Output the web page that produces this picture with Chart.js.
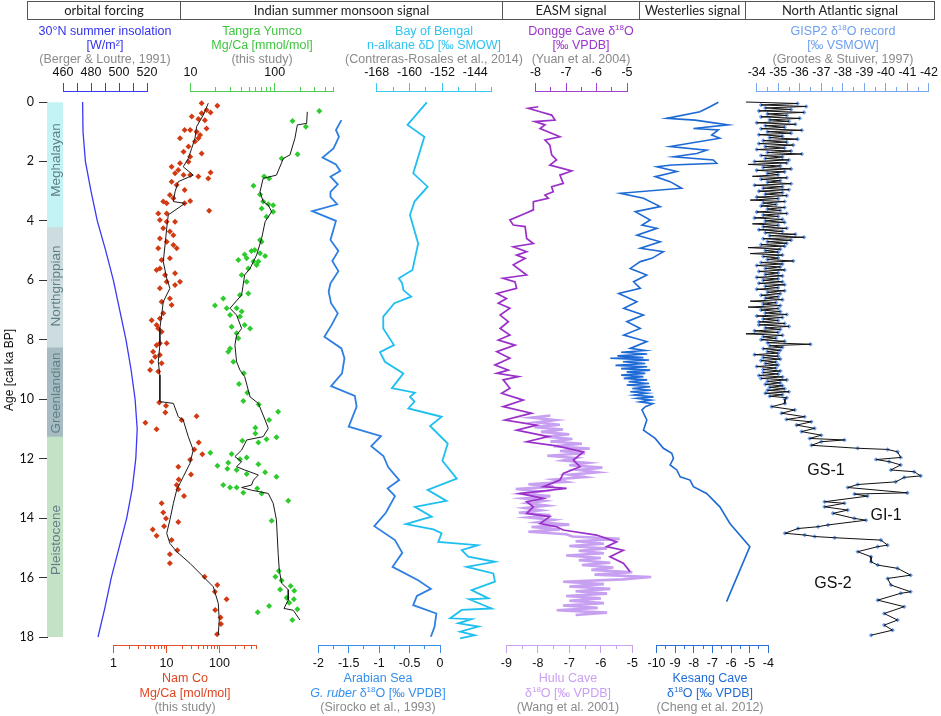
<!DOCTYPE html>
<html lang="en">
<head>
<meta charset="UTF-8">
<title>Monsoon and North Atlantic records, 0-18 ka</title>
<script src="https://cdn.jsdelivr.net/npm/chart.js"></script>
<style>
    body { margin: 0; background: #fff; }
    #wrap { position: relative; width: 941px; height: 716px; overflow: hidden; font-family: "Liberation Sans", Arial, sans-serif; }
    #wrap canvas { position: absolute; left: 0; top: 0; }
    #hdr { position: absolute; left: 27px; top: 1px; width: 908px; height: 19px; border: 1px solid #555; display: flex; box-sizing: border-box; font-family: Lato, sans-serif; font-size: 13px; color: #222; }
    #hdr div { box-sizing: border-box; border-right: 1px solid #555; text-align: center; line-height: 17px; }
    #hdr div:last-child { border-right: none; flex: 1; }
    .t { position: absolute; transform: translate(-50%, -50%); white-space: nowrap; font-size: 12.5px; line-height: 14px; }
    .g { color: #8a8a8a; }
    sup { font-size: 8px; line-height: 0; vertical-align: 5px; }
    .rot { position: absolute; transform: translate(-50%, -50%) rotate(-90deg); white-space: nowrap; font-weight: 400; }
    .stage { font-family: "Liberation Sans", Arial, sans-serif; font-size: 13.5px; color: #5f7f87; }
    .ev { position: absolute; transform: translate(-50%, -50%); font-size: 16px; color: #111; }
</style>
</head>
<body>
<div id="wrap">
    <div id="hdr">
        <div style="width:153px">orbital forcing</div>
        <div style="width:322px">Indian summer monsoon signal</div>
        <div style="width:137px">EASM signal</div>
        <div style="width:106px">Westerlies signal</div>
        <div>North Atlantic signal</div>
    </div>

    <!-- top titles -->
    <div class="t" style="left:105px;top:31px;color:#3333ee">30°N summer insolation</div>
    <div class="t" style="left:105px;top:45px;color:#3333ee">[W/m²]</div>
    <div class="t g" style="left:105px;top:59px">(Berger &amp; Loutre, 1991)</div>

    <div class="t" style="left:262px;top:31px;color:#3fc63f">Tangra Yumco</div>
    <div class="t" style="left:262px;top:45px;color:#3fc63f">Mg/Ca [mmol/mol]</div>
    <div class="t g" style="left:262px;top:59px">(this study)</div>

    <div class="t" style="left:434px;top:31px;color:#2ec4f2">Bay of Bengal</div>
    <div class="t" style="left:434px;top:45px;color:#2ec4f2">n-alkane δD [‰ SMOW]</div>
    <div class="t g" style="left:434px;top:59px">(Contreras-Rosales et al., 2014)</div>

    <div class="t" style="left:581px;top:31px;color:#9c33cc">Dongge Cave δ<sup>18</sup>O</div>
    <div class="t" style="left:581px;top:45px;color:#9c33cc">[‰ VPDB]</div>
    <div class="t g" style="left:581px;top:59px">(Yuan et al. 2004)</div>

    <div class="t" style="left:843px;top:31px;color:#6c9ef0">GISP2 δ<sup>18</sup>O record</div>
    <div class="t" style="left:843px;top:45px;color:#6c9ef0">[‰ VSMOW]</div>
    <div class="t g" style="left:843px;top:59px">(Grootes &amp; Stuiver, 1997)</div>

    <!-- bottom titles -->
    <div class="t" style="left:185px;top:678px;color:#df4520">Nam Co</div>
    <div class="t" style="left:185px;top:693px;color:#df4520">Mg/Ca [mol/mol]</div>
    <div class="t g" style="left:185px;top:707px">(this study)</div>

    <div class="t" style="left:378px;top:678px;color:#3390f0">Arabian Sea</div>
    <div class="t" style="left:378px;top:693px;color:#3390f0"><i>G. ruber</i> δ<sup>18</sup>O [‰ VPDB]</div>
    <div class="t g" style="left:378px;top:707px">(Sirocko et al., 1993)</div>

    <div class="t" style="left:568px;top:678px;color:#c9a0f3">Hulu Cave</div>
    <div class="t" style="left:568px;top:693px;color:#c9a0f3">δ<sup>18</sup>O [‰ VPDB]</div>
    <div class="t g" style="left:568px;top:707px">(Wang et al. 2001)</div>

    <div class="t" style="left:710px;top:678px;color:#1f6cd8">Kesang Cave</div>
    <div class="t" style="left:710px;top:693px;color:#1f6cd8">δ<sup>18</sup>O [‰ VPDB]</div>
    <div class="t g" style="left:710px;top:707px">(Cheng et al. 2012)</div>

    <div class="rot" style="left:9px;top:370px;font-size:12px;color:#111">Age [cal ka BP]</div>
    <div class="rot stage" style="left:55px;top:160px">Meghalayan</div>
    <div class="rot stage" style="left:55px;top:286px">Northgrippian</div>
    <div class="rot stage" style="left:55px;top:393px">Greenlandian</div>
    <div class="rot stage" style="left:55px;top:540px">Pleistocene</div>

    <div class="ev" style="left:826px;top:470px">GS-1</div>
    <div class="ev" style="left:886px;top:515px">GI-1</div>
    <div class="ev" style="left:833px;top:583px">GS-2</div>
</div>

<script>
    // chronostratigraphy (ka)
    const stageNames = ['Meghalayan', 'Northgrippian', 'Greenlandian', 'Pleistocene'];
    const stageBounds = [0, 4.2, 8.25, 11.25, 18];
    const ageTicks = [0, 2, 4, 6, 8, 10, 12, 14, 16, 18];

    // [age ka, value] pairs
    const insolation = [[0,474],[1,474.3],[2,476],[3,480],[4,484.5],[5,490.5],[6,496],[7,500.5],[8,505],[9,508.6],
        [10,511.5],[11,513],[12,512],[13,509.5],[14,505.5],[15,500],[16,494.5],[17,490],[18,485]];

    const namCoPoints = [[0.04,46],[0.13,91],[0.27,57],[0.38,46],[0.35,68],[0.49,30],[0.61,53],[0.57,40],[0.89,57],[0.94,22],
        [0.94,28],[1.0,37],[1.22,18],[1.22,40],[1.33,34.5],[1.11,43],[1.5,26],[1.67,21],[1.73,46],[1.84,28],
        [2.01,26],[2.06,18],[2.18,12.5],[2.29,16.7],[2.4,14.5],[2.46,21],[2.46,28],[2.51,40],[2.37,68],[2.57,61.5],
        [2.68,12.5],[2.79,15.6],[2.96,22],[3.13,11.6],[3.24,13.5],[3.35,8.7],[3.41,10.1],[3.41,22],[3.33,28],[3.66,64],
        [3.75,7.0],[3.75,10.1],[3.97,7.5],[4.03,10.1],[4.03,14.5],[4.25,8.7],[4.36,11.6],[4.59,7.5],[4.48,13.5],[4.7,10.1],
        [4.81,13.5],[4.92,15.6],[4.92,7.0],[5.32,8.1],[5.26,11.6],[5.6,7.5],[5.65,6.5],[5.82,9.4],[5.76,14.5],[6.05,10.1],
        [6.05,18],[6.27,7.5],[6.16,14.5],[6.61,11.6],[6.72,8.1],[6.83,12.5],[7.11,8.7],[7.28,7.5],[7.34,5.25],[7.62,7.0],
        [7.5,6.5],[7.73,8.1],[8.18,6.5],[8.12,10.1],[8.12,7.5],[8.4,5.6],[8.57,6.1],[8.51,7.5],[8.74,5.25],[8.79,8.1],
        [9.02,4.9],[9.07,7.0],[10.11,7.3],[10.22,9.8],[10.45,9.5],[10.7,19.3],[10.57,37],[10.79,4.0],[11.01,6.5],[11.46,40.5],
        [11.69,33.5],[11.85,47.5],[12.04,28],[12.27,16.7],[12.53,29],[12.7,17],[12.89,15.6],[13.26,21.4],[13.03,16.7],[13.5,8.1],
        [13.81,8.7],[14.01,9.8],[14.13,16.7],[14.38,5.5],[14.27,9.0],[14.59,6.5],[14.74,12.5],[15.08,16],[15.22,11.6],[15.52,11.6],
        [15.97,52.5],[16.25,91],[16.48,82],[16.73,136],[17.09,83],[17.34,105],[17.56,107],[17.91,90]];
    const namCoSmooth = [[0.04,61.5],[0.44,49.5],[0.83,37],[1.22,34.5],[1.56,29.9],[1.9,25.8],[2.18,20.7],[2.46,32],[2.68,16.7],
        [3.02,14.5],[3.35,13.5],[3.41,22.3],[3.8,10.8],[4.25,10.1],[4.81,9.4],[5.37,8.7],[5.93,10.1],[6.27,11.6],[6.72,8.7],
        [7.17,8.1],[7.61,7.5],[8.18,7.5],[8.74,7.0],[9.19,7.5],[10.08,7.5],[10.14,13.5],[10.59,16.7],[10.7,20.7],[11.26,25.8],
        [11.71,32],[12.16,27.7],[12.61,20.7],[13.05,15.6],[13.5,13.5],[14.06,11.6],[14.51,10.1],[14.85,11.6],[15.13,15.6],
        [15.52,27.7],[15.97,49.5],[16.31,76.4],[16.87,95],[17.43,99],[17.93,95]];

    const tangraPoints = [[0.64,163],[0.83,235],[0.3,339],[1.9,121],[1.76,187],[2.51,75],[2.57,86],[2.82,56],[3.11,67],[3.35,73],
        [3.44,84],[3.47,96],[3.58,70],[3.69,96],[3.86,80],[4.64,67],[4.7,70],[5.13,44],[5.01,53],[4.98,58],
        [5.09,67],[5.18,77],[5.26,46.5],[5.32,37],[5.37,56],[5.6,48.6],[5.82,40.5],[5.48,61],[5.37,64],[6.05,46.5],
        [6.44,48.6],[6.49,38.7],[6.61,24.5],[6.85,19.5],[6.94,26.9],[6.94,35.3],[7.05,40.5],[7.17,29.5],[7.22,38.7],[7.5,44],
        [7.62,51],[7.56,30.8],[7.78,35.3],[7.95,37],[8.29,29.5],[8.4,28.1],[8.74,32.3],[9.13,43],[9.49,37.7],[9.78,47.3],
        [10.06,42.4],[10.18,64.6],[10.42,110],[10.7,86],[10.96,59],[11.15,59],[11.28,105],[11.35,80],[11.4,41.3],[11.46,64],
        [11.8,17.2],[11.84,30.8],[11.96,46.5],[12.02,38.7],[12.24,20.9],[12.14,28.1],[12.34,27.4],[12.38,35.3],[12.19,64],[12.46,77],
        [12.52,46.5],[12.61,105],[12.89,24.5],[12.97,29.5],[12.97,35.3],[13.15,42.4],[13.0,62],[13.17,70],[13.42,145],[14.09,92],
        [15.78,112],[15.97,102],[16.1,121],[16.28,155],[16.4,116],[16.44,171],[16.68,139],[16.73,169],[16.85,149],[16.96,86],
        [17.17,63],[17.07,186],[17.43,162]];
    const tangraSmooth = [[0.33,244],[0.72,240],[0.77,186],[1.22,174],[1.78,152],[1.9,127],[2.46,105],[2.57,73],[3.02,67],
        [3.35,73],[3.47,84],[3.69,92],[4.03,77],[4.59,70],[5.15,61],[5.6,51],[5.82,44],[6.49,40.5],[6.94,29.5],[7.17,35.3],
        [7.62,40.5],[7.84,35.3],[8.18,33.7],[8.74,35.3],[9.02,38.7],[9.24,44],[9.92,51],[10.14,64],[10.7,77],[10.98,84],
        [11.26,73],[11.37,46.5],[11.71,40.5],[11.93,33.7],[12.1,40.5],[12.27,35.3],[12.38,44],[12.55,64],[12.72,56],[12.89,53],
        [12.97,40.5],[13.06,53],[13.17,84],[13.5,96],[14.06,105],[15.19,110],[15.75,113.5],[16.19,121],[16.41,145],[16.76,145],
        [17.04,129],[17.1,166],[17.43,200]];

    const arabianSea = [[0.61,-1.62],[0.94,-1.71],[1.17,-1.66],[1.56,-1.75],[1.87,-1.93],[2.1,-1.71],[2.32,-1.64],[2.51,-1.8],
        [2.77,-1.68],[3.02,-1.8],[3.19,-1.8],[3.44,-1.69],[3.67,-2.1],[4.0,-1.71],[4.64,-1.8],[5.01,-1.67],[5.35,-1.77],
        [5.69,-1.67],[6.1,-1.8],[6.38,-1.83],[6.77,-1.79],[7.11,-1.68],[7.5,-1.78],[7.9,-1.9],[8.29,-1.62],[8.62,-1.57],
        [9.13,-1.61],[9.56,-1.79],[9.89,-1.4],[10.25,-1.37],[10.92,-1.5],[11.24,-0.97],[11.58,-1.13],[11.91,-0.93],[12.29,-0.85],
        [12.72,-0.67],[13.0,-0.86],[13.26,-0.74],[13.82,-0.89],[14.27,-1.08],[14.74,-0.74],[15.17,-0.62],[15.64,-0.78],
        [16.09,-0.36],[16.38,-0.15],[16.62,-0.38],[16.93,-0.44],[17.21,-0.06],[17.66,-0.09],[17.99,-0.15]];

    const bayOfBengal = [[0.01,-155.8],[0.77,-160.5],[1.17,-156.4],[2.4,-159.1],[2.85,-155.6],[3.35,-158.8],[3.8,-159.9],
        [4.76,-157.9],[5.65,-159.3],[5.93,-162.6],[6.1,-161.8],[6.33,-161.5],[6.55,-159.6],[6.77,-163.7],[7.22,-166.4],
        [7.62,-166.4],[8.18,-163.8],[8.42,-167.2],[8.74,-166.0],[9.13,-161.5],[9.63,-164.3],[9.78,-158.7],[9.92,-159.9],
        [10.08,-158.8],[10.31,-160.3],[10.59,-152.2],[10.9,-155.0],[11.49,-150.7],[12.07,-152.0],[12.67,-148.5],[13.05,-155.6],
        [13.42,-151.0],[13.62,-158.7],[13.95,-154.6],[14.04,-157.0],[14.2,-160.9],[14.38,-154.2],[14.51,-152.2],[14.8,-153.0],
        [14.91,-143.4],[15.08,-147.3],[15.3,-145.7],[15.47,-139.2],[15.64,-146.1],[15.86,-139.6],[16.14,-139.2],[16.42,-144.9],
        [16.7,-140.8],[16.73,-145.5],[17.04,-140.0],[17.09,-147.3],[17.37,-150.1],[17.4,-144.9],[17.54,-148.1],[17.65,-143.2],
        [17.82,-147.7],[17.94,-144.1],[18.05,-147.7]];

    const dongge = [[0.16,-7.91],[0.21,-8.24],[0.33,-7.85],[0.44,-7.47],[0.61,-7.36],[0.66,-8.02],[0.77,-7.69],[0.89,-7.85],
        [1.17,-7.2],[1.28,-7.69],[1.45,-7.53],[1.78,-7.47],[1.95,-7.31],[2.12,-7.53],[2.32,-6.81],[2.46,-7.2],[2.74,-7.09],
        [2.85,-7.47],[3.02,-7.42],[3.13,-7.69],[3.24,-7.58],[3.35,-8.07],[3.63,-8.07],[3.75,-8.34],[3.97,-8.84],[4.14,-8.73],
        [4.19,-8.34],[4.59,-8.29],[4.76,-8.07],[4.87,-8.73],[5.04,-8.29],[5.15,-8.62],[5.26,-8.34],[5.48,-8.73],[5.82,-8.29],
        [5.93,-9.06],[6.05,-8.67],[6.27,-8.62],[6.44,-9.27],[6.61,-8.95],[6.77,-9.22],[6.94,-8.84],[7.17,-9.16],[7.39,-8.89],
        [7.62,-9.16],[7.84,-8.84],[8.01,-9.22],[8.18,-8.67],[8.4,-9.27],[8.62,-8.84],[8.85,-9.33],[9.02,-8.89],[9.13,-9.27],
        [9.24,-8.56],[9.35,-9.06],[9.63,-8.84],[9.8,-9.11],[10.03,-8.4],[10.25,-9.06],[10.47,-8.13],[10.7,-9.0],[10.87,-7.96],
        [11.04,-8.62],[11.26,-7.58],[11.43,-8.29],[11.57,-7.31],[11.77,-6.43],[12.05,-6.76],[12.27,-6.54],[12.5,-7.09],
        [12.72,-7.2],[12.94,-7.74],[13.0,-6.98],[13.17,-8.51],[13.34,-7.74],[13.45,-8.29],[13.62,-8.07],[13.84,-8.29],
        [13.95,-7.53],[14.18,-7.85],[14.29,-7.31],[14.4,-7.09],[14.57,-6.0],[14.8,-5.34],[14.96,-5.67],[15.08,-5.12],
        [15.3,-5.56],[15.52,-5.12],[15.8,-4.9]];

    const hulu = [[10.55,-7.6],[10.62,-8.2],[10.7,-7.45],[10.78,-8.05],[10.86,-7.3],[10.94,-8.1],[11.02,-7.2],[11.1,-7.9],
        [11.18,-7.0],[11.26,-7.75],[11.34,-6.9],[11.42,-7.6],[11.5,-6.6],[11.58,-7.5],[11.66,-6.35],[11.74,-7.3],[11.82,-6.5],
        [11.9,-7.7],[11.98,-6.8],[12.06,-7.2],[12.14,-6.4],[12.22,-7.0],[12.3,-5.95],[12.38,-6.7],[12.46,-6.1],[12.54,-7.0],
        [12.62,-6.5],[12.7,-7.5],[12.78,-7.1],[12.86,-8.3],[12.94,-7.5],[13.02,-8.7],[13.1,-7.9],[13.18,-8.5],[13.26,-7.6],
        [13.34,-8.45],[13.42,-7.8],[13.5,-8.3],[13.58,-7.7],[13.66,-8.4],[13.74,-7.9],[13.82,-8.6],[13.9,-7.6],[13.98,-8.3],
        [14.06,-7.5],[14.14,-8.0],[14.22,-7.0],[14.3,-8.2],[14.38,-7.3],[14.46,-8.3],[14.54,-7.1],[14.62,-6.9],[14.7,-5.4],
        [14.78,-6.8],[14.86,-5.9],[14.94,-7.0],[15.02,-5.8],[15.1,-6.7],[15.18,-5.9],[15.26,-7.1],[15.34,-6.0],[15.42,-6.7],
        [15.5,-5.7],[15.58,-6.6],[15.66,-5.6],[15.74,-6.3],[15.82,-5.0],[15.9,-6.2],[15.98,-4.4],[16.06,-5.3],[16.14,-7.2],
        [16.22,-5.9],[16.3,-7.0],[16.38,-5.7],[16.46,-6.8],[16.54,-5.8],[16.62,-7.1],[16.7,-6.0],[16.78,-7.0],[16.86,-5.9],
        [16.94,-7.2],[17.02,-6.1],[17.1,-7.4],[17.18,-5.8],[17.26,-6.8]];

    const kesang = [[0.01,-6.68],[0.16,-7.13],[0.33,-7.67],[0.55,-9.45],[0.61,-7.93],[0.77,-6.15],[0.89,-8.02],[0.94,-6.68],
        [1.11,-7.04],[1.22,-6.6],[1.5,-9.27],[1.62,-7.31],[1.73,-7.84],[1.84,-9.09],[1.95,-6.95],[2.06,-6.77],[2.12,-9.18],
        [2.18,-9.98],[2.34,-8.91],[2.51,-10.07],[2.68,-9.27],[2.9,-8.65],[3.07,-11.94],[3.24,-10.7],[3.52,-9.8],[3.69,-11.14],
        [3.97,-10.34],[4.14,-10.78],[4.25,-9.98],[4.48,-11.05],[4.7,-9.8],[4.92,-10.87],[5.04,-9.63],[5.26,-10.25],[5.37,-10.87],
        [5.6,-11.41],[5.82,-10.52],[6.05,-11.23],[6.27,-10.87],[6.44,-12.03],[6.72,-11.05],[6.94,-11.76],[7.17,-10.7],
        [7.39,-11.59],[7.62,-10.87],[7.84,-11.76],[8.06,-10.52],[8.29,-11.41],[8.36,-10.6],[8.42,-11.9],[8.48,-10.5],
        [8.54,-12.1],[8.6,-10.7],[8.62,-12.48],[8.68,-10.4],[8.74,-11.8],[8.8,-10.6],[8.86,-12.2],[8.91,-10.5],[8.97,-11.9],
        [9.02,-10.34],[9.08,-11.6],[9.13,-10.6],[9.19,-11.9],[9.24,-10.7],[9.3,-11.76],[9.35,-10.5],[9.41,-11.5],[9.47,-10.4],
        [9.52,-11.6],[9.58,-10.34],[9.64,-11.3],[9.7,-10.3],[9.75,-11.41],[9.8,-10.5],[9.86,-11.2],[9.92,-10.16],[9.97,-11.05],
        [10.03,-10.3],[10.09,-10.9],[10.15,-10.2],[10.25,-10.6],[10.36,-10.78],[10.7,-10.52],[11.04,-10.7],[11.32,-10.07],
        [11.65,-9.63],[11.82,-9.18],[11.99,-9.09],[12.21,-9.27],[12.38,-8.91],[12.61,-8.73],[12.72,-8.2],[12.94,-8.02],
        [13.17,-7.31],[13.62,-6.6],[14.18,-6.06],[14.96,-4.99],[16.81,-6.24]];

    const gisp2 = [
        [0.0,-33.5],[0.05,-35.9],[0.1,-34.2],[0.15,-36.3],[0.2,-34.4],[0.25,-35.6],[0.3,-34.1],[0.35,-36.2],[0.4,-34.5],[0.45,-35.4],
        [0.5,-34.2],[0.55,-36.0],[0.6,-34.6],[0.65,-35.5],[0.7,-34.0],[0.75,-35.8],[0.8,-34.4],[0.85,-35.3],[0.9,-34.2],[0.95,-36.1],
        [1.0,-34.5],[1.05,-35.6],[1.1,-34.1],[1.15,-35.2],[1.2,-34.6],[1.25,-35.9],[1.3,-34.3],[1.35,-35.4],[1.4,-34.1],[1.45,-35.7],
        [1.5,-34.4],[1.55,-35.3],[1.6,-34.0],[1.65,-35.6],[1.7,-34.5],[1.75,-36.1],[1.8,-34.2],[1.85,-35.2],[1.9,-34.4],[1.95,-35.5],
        [2.0,-33.9],[2.05,-35.4],[2.1,-33.6],[2.15,-35.1],[2.2,-34.3],[2.25,-35.6],[2.3,-34.0],[2.35,-35.3],[2.4,-34.5],[2.45,-35.0],
        [2.5,-33.8],[2.55,-35.4],[2.6,-34.2],[2.65,-35.1],[2.7,-34.5],[2.75,-35.6],[2.8,-33.9],[2.85,-35.2],[2.9,-34.3],[2.95,-35.5],
        [3.0,-34.1],[3.05,-35.2],[3.1,-34.4],[3.15,-35.4],[3.2,-34.0],[3.25,-35.0],[3.3,-33.7],[3.35,-35.3],[3.4,-34.3],[3.45,-34.9],
        [3.5,-34.2],[3.55,-35.3],[3.6,-34.5],[3.65,-35.1],[3.7,-34.0],[3.75,-35.4],[3.8,-34.3],[3.85,-35.0],[3.9,-33.9],[3.95,-35.2],
        [4.0,-34.4],[4.05,-35.3],[4.1,-33.8],[4.15,-35.0],[4.2,-34.3],[4.25,-35.4],[4.3,-34.1],[4.35,-35.2],[4.4,-34.4],[4.45,-35.8],
        [4.5,-34.6],[4.55,-36.2],[4.6,-34.3],[4.65,-35.6],[4.7,-34.5],[4.75,-35.4],[4.8,-34.2],[4.85,-35.3],[4.9,-33.6],[4.95,-35.1],
        [5.0,-34.4],[5.05,-35.0],[5.1,-33.7],[5.15,-35.2],[5.2,-34.3],[5.25,-35.0],[5.3,-34.5],[5.35,-35.7],[5.4,-34.2],[5.45,-35.2],
        [5.5,-34.0],[5.55,-35.1],[5.6,-34.4],[5.65,-35.3],[5.7,-34.1],[5.75,-35.0],[5.8,-34.4],[5.85,-35.2],[5.9,-34.0],[5.95,-35.0],
        [6.0,-34.3],[6.05,-35.2],[6.1,-34.1],[6.15,-35.3],[6.2,-34.4],[6.25,-35.0],[6.3,-34.0],[6.35,-35.3],[6.4,-34.5],[6.45,-35.1],
        [6.5,-34.2],[6.55,-35.0],[6.6,-34.4],[6.65,-35.2],[6.7,-33.7],[6.75,-34.9],[6.8,-34.3],[6.85,-35.1],[6.9,-33.6],[6.95,-35.0],
        [7.0,-34.2],[7.05,-35.1],[7.1,-34.4],[7.15,-35.4],[7.2,-34.0],[7.25,-35.2],[7.3,-34.3],[7.35,-35.0],[7.4,-34.1],[7.45,-35.3],
        [7.5,-34.1],[7.55,-35.5],[7.6,-34.4],[7.65,-35.1],[7.7,-33.9],[7.75,-35.0],[7.8,-33.5],[7.85,-35.2],[7.9,-34.3],[7.95,-34.9],
        [8.0,-34.2],[8.05,-35.3],[8.1,-34.5],[8.15,-36.5],[8.2,-34.6],[8.25,-35.2],[8.3,-34.3],[8.35,-35.1],[8.4,-34.5],[8.45,-35.0],
        [8.5,-33.9],[8.55,-35.0],[8.6,-34.3],[8.65,-35.1],[8.7,-34.2],[8.75,-34.9],[8.8,-34.4],[8.85,-35.0],[8.9,-34.0],[8.95,-34.9],
        [9.0,-34.3],[9.05,-35.1],[9.1,-34.3],[9.15,-35.0],[9.2,-34.1],[9.25,-35.2],[9.3,-34.2],[9.35,-35.4],[9.4,-34.5],[9.45,-35.1],
        [9.5,-34.4],[9.55,-35.2],[9.6,-34.6],[9.65,-35.3],[9.7,-34.5],[9.75,-35.5],[9.8,-34.4],[9.85,-35.2],[9.9,-34.6],[9.95,-35.4],
        [10.0,-35.3],[10.14,-35.31],[10.25,-34.69],[10.36,-35.77],[10.47,-35.15],[10.59,-36.23],[10.68,-35.38],[10.76,-36.54],
        [10.87,-35.85],[10.98,-36.69],[11.09,-36.08],[11.21,-37.0],[11.32,-36.46],[11.37,-38.08],[11.43,-37.0],[11.55,-36.54],
        [11.65,-38.69],[11.69,-40.08],[11.77,-40.54],[11.96,-40.69],[12.03,-39.54],[12.1,-40.15],[12.21,-40.69],[12.38,-40.23],
        [12.44,-41.31],[12.58,-41.62],[12.63,-40.85],[12.78,-40.46],[12.87,-38.69],[12.97,-38.23],[13.15,-41.0],[13.19,-38.54],
        [13.26,-39.15],[13.45,-37.15],[13.5,-38.08],[13.62,-37.15],[13.73,-38.23],[13.84,-37.54],[14.01,-38.54],[14.07,-39.08],
        [14.23,-37.31],[14.29,-36.85],[14.35,-35.92],[14.51,-35.31],[14.57,-36.23],[14.62,-36.69],[14.66,-37.62],[14.74,-39.77],
        [14.91,-40.08],[14.96,-39.62],[15.13,-38.69],[15.3,-39.31],[15.47,-39.31],[15.58,-39.62],[15.69,-40.54],[15.92,-41.15],
        [16.03,-40.08],[16.25,-40.23],[16.48,-41.15],[16.53,-40.69],[16.76,-39.62],[16.98,-40.85],[17.21,-39.92],[17.43,-40.54],
        [17.6,-39.92],[17.77,-40.31],[17.94,-39.31]];

    // page geometry: 0 ka sits at y=102, 18 ka at y=637
    const W = 941, H = 716;
    const Y0 = 102, Y18 = 637, PLOT_TOP = 91, PLOT_BOT = 645, AXH = 30;
    const KA = (Y18 - Y0) / 18;
    const YMIN = -(Y0 - PLOT_TOP) / KA;
    const YMAX = 18 + (PLOT_BOT - Y18) / KA;
    const FONT = { family: '"Liberation Sans", Arial, sans-serif', size: 12.5 };

    // every new canvas goes under the ones made before it
    const wrap = document.getElementById('wrap');
    function newCanvas() {
        const cv = document.createElement('canvas');
        cv.width = W; cv.height = H;
        wrap.insertBefore(cv, wrap.firstChild);
        return cv;
    }

    function xy(pairs) {
        return pairs.map(p => ({ x: p[1], y: p[0] }));
    }
    function line(pairs, color, width) {
        return { data: xy(pairs), showLine: true, borderColor: color, borderWidth: width,
                 pointRadius: 0, pointHoverRadius: 0, clip: false, xAxisID: 'x' };
    }
    function dots(pairs, color, r) {
        return { data: xy(pairs), showLine: false, pointStyle: 'rectRot', pointRadius: r,
                 backgroundColor: color, borderWidth: 0, clip: false, xAxisID: 'x' };
    }

    function panel(p) {
        const top = p.pos === 'top';
        const axis = (major) => ({
            axis: 'x',
            type: p.type || 'linear',
            position: p.pos,
            weight: major ? 1 : 0,
            min: p.min, max: p.max, reverse: !!p.reverse,
            afterFit: s => { s.height = major ? AXH : 0; },
            afterBuildTicks: s => { s.ticks = (major ? p.major : p.minor).map(v => ({ value: v })); },
            grid: { drawOnChartArea: false, color: p.axisColor, tickLength: major ? 8 : (p.minorLen || 4), tickWidth: 1 },
            border: { color: p.axisColor, width: 1 },
            ticks: { display: major, color: '#111', font: FONT, padding: 3, maxRotation: 0, autoSkip: false,
                     callback: v => String(v) }
        });
        return new Chart(newCanvas(), {
            type: 'scatter',
            data: { datasets: p.datasets },
            options: {
                responsive: false, animation: false, events: [], indexAxis: 'y',
                layout: { padding: {
                    left: p.x0, right: W - p.x1,
                    top: top ? PLOT_TOP - AXH : PLOT_TOP,
                    bottom: top ? H - PLOT_BOT : H - PLOT_BOT - AXH } },
                plugins: { legend: { display: false }, tooltip: { enabled: false } },
                scales: {
                    x: axis(true),
                    xm: axis(false),
                    y: { type: 'linear', display: false, min: YMIN, max: YMAX, reverse: true }
                }
            }
        });
    }

    // age axis with chronozone bar
    const stageColors = ['#c4f3f6', '#cddcdf', '#a6bcc2', '#c4e2c6'];
    new Chart(newCanvas(), {
        type: 'bar',
        data: {
            labels: ['stage'],
            datasets: stageNames.map((n, i) => ({
                label: n, data: [[stageBounds[i], stageBounds[i + 1]]],
                backgroundColor: stageColors[i], borderWidth: 0,
                grouped: false, barPercentage: 1, categoryPercentage: 1
            }))
        },
        options: {
            responsive: false, animation: false, events: [],
            layout: { padding: { left: 47 - 36, right: W - 63, top: Y0, bottom: H - Y18 } },
            plugins: { legend: { display: false }, tooltip: { enabled: false } },
            scales: {
                x: { display: false },
                y: {
                    min: 0, max: 18, reverse: true,
                    afterFit: s => { s.width = 36; },
                    afterBuildTicks: s => { s.ticks = ageTicks.map(v => ({ value: v })); },
                    grid: { drawOnChartArea: false, color: '#333', tickLength: 8 },
                    border: { color: '#333' },
                    ticks: { color: '#111', font: { family: 'Lato, sans-serif', size: 12.5 }, padding: 5 }
                }
            }
        }
    });

    const decades = (a, b) => { const out = []; for (let d = a; d < b; d *= 10) for (let k = 2; k <= 9; k++) out.push(k * d); return out; };

    panel({ pos: 'top', x0: 63, x1: 147, min: 460, max: 520, axisColor: '#3a3af5',
            major: [460, 480, 500, 520], minor: [470, 490, 510], minorLen: 8,
            datasets: [line(insolation, '#3a3af5', 1.3)] });

    panel({ pos: 'bottom', type: 'logarithmic', x0: 113.5, x1: 256.5, min: 1, max: 500, axisColor: '#e0502a',
            major: [1, 10, 100], minor: decades(1, 100).concat([200, 300, 400, 500]),
            datasets: [line(namCoSmooth, '#1a1a1a', 1), dots(namCoPoints, '#d13a12', 3)] });

    panel({ pos: 'top', type: 'logarithmic', x0: 190.5, x1: 333.5, min: 10, max: 500, axisColor: '#4fcf4f',
            major: [10, 100], minor: decades(10, 100).concat([200, 300, 400, 500]),
            datasets: [line(tangraSmooth, '#1a1a1a', 1), dots(tangraPoints, '#2dcb2d', 3)] });

    panel({ pos: 'top', x0: 376.7, x1: 491.7, min: -168, max: -140, axisColor: '#3cc8f2',
            major: [-168, -160, -152, -144], minor: [-164, -156, -148, -140],
            datasets: [line(bayOfBengal, '#1fbff0', 1.8)] });

    panel({ pos: 'bottom', x0: 318.3, x1: 440, min: -2, max: 0, axisColor: '#3a8de8',
            major: [-2, -1.5, -1, -0.5, 0], minor: [-1.75, -1.25, -0.75, -0.25],
            datasets: [line(arabianSea, '#2d7fe3', 1.8)] });

    // Dongge before Hulu so that Dongge sits on top
    panel({ pos: 'top', x0: 535.5, x1: 627, min: -8, max: -5, axisColor: '#a040d0',
            major: [-8, -7, -6, -5], minor: [-7.5, -6.5, -5.5],
            datasets: [line(dongge, '#9a2fc9', 1.7)] });

    panel({ pos: 'bottom', x0: 506.3, x1: 632.3, min: -9, max: -5, axisColor: '#c9a2f2',
            major: [-9, -8, -7, -6, -5], minor: [-8.5, -7.5, -6.5, -5.5],
            datasets: [line(hulu, '#c8a0f2', 2.6)] });

    panel({ pos: 'bottom', x0: 656.5, x1: 768.3, min: -10, max: -4, axisColor: '#2a70d8',
            major: [-10, -9, -8, -7, -6, -5, -4], minor: [-9.5, -8.5, -7.5, -6.5, -5.5, -4.5],
            datasets: [line(kesang, '#1d6ad5', 1.6)] });

    panel({ pos: 'top', x0: 756.7, x1: 930, min: -42, max: -34, reverse: true, axisColor: '#7aa8f0',
            major: [-34, -35, -36, -37, -38, -39, -40, -41, -42],
            minor: [-34.5, -35.5, -36.5, -37.5, -38.5, -39.5, -40.5, -41.5],
            datasets: [line(gisp2, '#111', 1), dots(gisp2, '#6c9deb', 2.3)] });
</script>
</body>
</html>
